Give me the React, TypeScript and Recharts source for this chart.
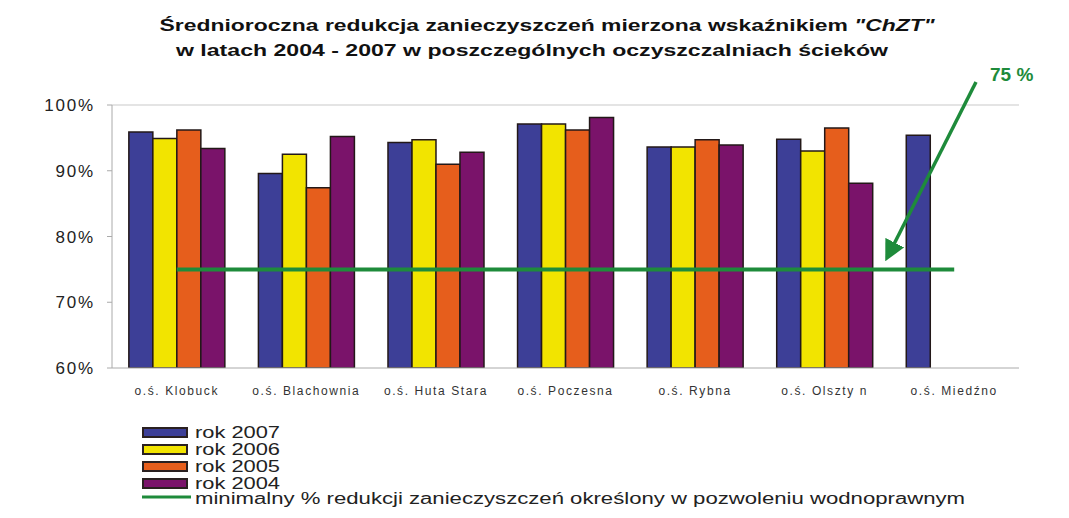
import {
  ComposedChart,
  Bar,
  Line,
  XAxis,
  YAxis,
  Legend,
  ReferenceLine,
} from "recharts";

const categories = [
  "o.ś. Klobuck",
  "o.ś. Blachownia",
  "o.ś. Huta Stara",
  "o.ś. Poczesna",
  "o.ś. Rybna",
  "o.ś. Olszty n",
  "o.ś. Miedźno",
];
const rok2007 = [95.9, 89.6, 94.3, 97.1, 93.6, 94.8, 95.4];
const rok2006 = [94.9, 92.5, 94.7, 97.1, 93.6, 93.0, null];
const rok2005 = [96.2, 87.4, 91.0, 96.2, 94.7, 96.5, null];
const rok2004 = [93.4, 95.2, 92.8, 98.1, 93.9, 88.1, null];
const minReduction = [75, 75, 75, 75, 75, 75, 75];
const yTicks = [60, 70, 80, 90, 100];

const seriesNames = ["rok 2007", "rok 2006", "rok 2005", "rok 2004"];
const lineName =
  "minimalny % redukcji zanieczyszczeń określony w pozwoleniu wodnoprawnym";
const colors = ["#3d3f97", "#f2e400", "#e65e1c", "#7a136a"];
const green = "#1e8b3b";

const data = categories.map((name, i) => ({
  name,
  r2007: rok2007[i],
  r2006: rok2006[i],
  r2005: rok2005[i],
  r2004: rok2004[i],
  min: minReduction[i],
}));

const keys = ["r2007", "r2006", "r2005", "r2004"];

const font = "Arial, 'Liberation Sans', sans-serif";

// legend drawn by hand, rows 17px apart like the original
const LegendBox = () => (
  <svg width={900} height={92} style={{ fontFamily: font, display: "block" }}>
    {seriesNames.map((s, i) => (
      <g key={s}>
        <rect
          x={1}
          y={6 + i * 17}
          width={44}
          height={9}
          fill={colors[i]}
          stroke="#2a2020"
          strokeWidth={2}
        />
        <text
          x={53}
          y={16 + i * 17}
          fontSize={16}
          fill="#222"
          textLength={85}
          lengthAdjust="spacingAndGlyphs"
        >
          {s}
        </text>
      </g>
    ))}
    <line x1={0} x2={49} y1={75} y2={75} stroke={green} strokeWidth={3} />
    <text
      x={53}
      y={82}
      fontSize={16}
      fill="#222"
      textLength={770}
      lengthAdjust="spacingAndGlyphs"
    >
      {lineName}
    </text>
  </svg>
);

const Overlay = () => (
  <svg
    width={1069}
    height={518}
    style={{ position: "absolute", left: 0, top: 0, pointerEvents: "none", fontFamily: font }}
  >
    <defs>
      <marker
        id="head"
        markerWidth="6"
        markerHeight="6"
        refX="3"
        refY="3"
        orient="auto"
        markerUnits="strokeWidth"
      >
        <path d="M0,0 L6,3 L0,6 Z" fill={green} />
      </marker>
    </defs>
    <text
      x={547}
      y={31}
      textAnchor="middle"
      fontSize={17}
      fontWeight="bold"
      fill="#111"
      textLength={775}
      lengthAdjust="spacingAndGlyphs"
    >
      Średnioroczna redukcja zanieczyszczeń mierzona wskaźnikiem{" "}
      <tspan fontStyle="italic">"ChZT"</tspan>
    </text>
    <text
      x={532}
      y={56}
      textAnchor="middle"
      fontSize={17}
      fontWeight="bold"
      fill="#111"
      textLength={712}
      lengthAdjust="spacingAndGlyphs"
    >
      w latach 2004 - 2007 w poszczególnych oczyszczalniach ścieków
    </text>
    <text x={990} y={81} fontSize={19} fontWeight="bold" fill={green}>
      75 %
    </text>
    <line
      x1={976}
      y1={82}
      x2={890}
      y2={252}
      stroke={green}
      strokeWidth={3.5}
      markerEnd="url(#head)"
    />
  </svg>
);

export default function App() {
  return (
    <div
      style={{
        position: "absolute",
        left: 0,
        top: 0,
        width: 1069,
        height: 518,
        background: "#fff",
        fontFamily: font,
      }}
    >
      <ComposedChart
        width={1069}
        height={518}
        data={data}
        margin={{ top: 105, right: 50, left: 0, bottom: 120 }}
        barCategoryGap="13%"
        barGap={0}
      >
        <ReferenceLine y={100} stroke="#e4e4e4" strokeWidth={2} />
        <XAxis
          dataKey="name"
          height={30}
          tickLine={false}
          axisLine={{ stroke: "#aaa" }}
          tickMargin={12}
          tick={{ fontSize: 12, fill: "#333", letterSpacing: 1.6 }}
          interval={0}
        />
        <YAxis
          width={112}
          domain={[60, 100]}
          ticks={yTicks}
          allowDataOverflow
          tickFormatter={(v: number) => `${v}%`}
          axisLine={{ stroke: "#aaa" }}
          tickLine={{ stroke: "#aaa" }}
          tickSize={5}
          tickMargin={12}
          tick={{ fontSize: 17, fill: "#222", letterSpacing: 1.8 }}
        />
        {keys.map((k, i) => (
          <Bar
            key={k}
            dataKey={k}
            name={seriesNames[i]}
            fill={colors[i]}
            stroke="#231818"
            strokeWidth={1.5}
            isAnimationActive={false}
          />
        ))}
        <Line
          dataKey="min"
          name={lineName}
          stroke={green}
          strokeWidth={4}
          dot={false}
          isAnimationActive={false}
        />
        <Legend
          layout="horizontal"
          verticalAlign="middle"
          align="center"
          content={() => <LegendBox />}
          wrapperStyle={{ position: "absolute", left: 142, top: 422, width: 900 }}
        />
      </ComposedChart>
      <Overlay />
    </div>
  );
}
